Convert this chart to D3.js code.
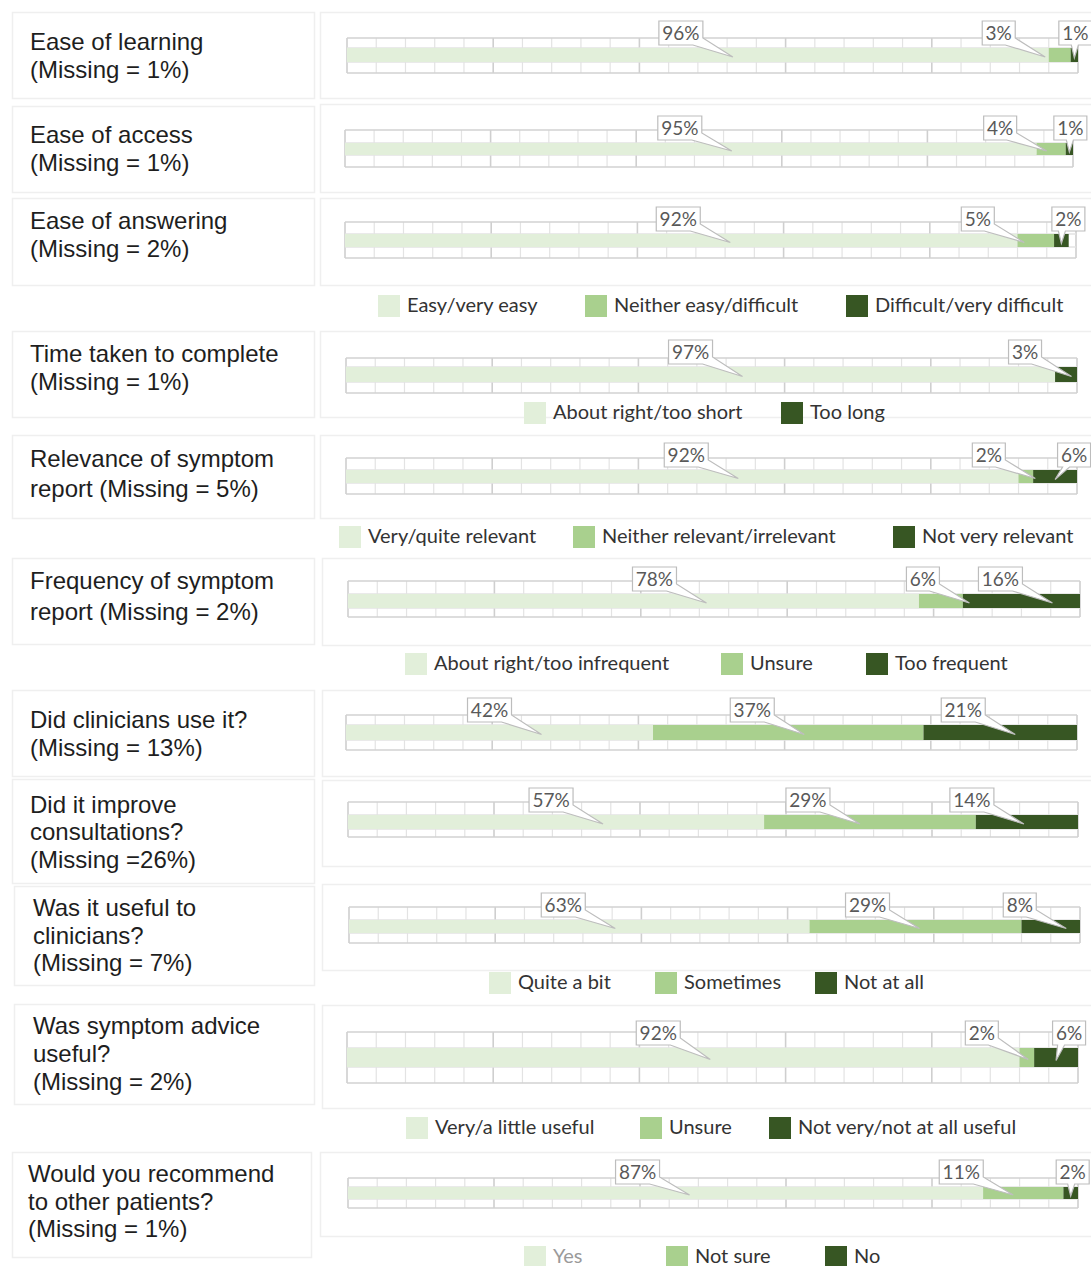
<!DOCTYPE html>
<html><head><meta charset="utf-8">
<script src="https://cdn.jsdelivr.net/npm/d3@7"></script>
<style>html,body{margin:0;padding:0;background:#fff;}svg{display:block;}</style>
</head><body>
<script>
// ---------- DATA ----------
const categories = [
  ["Ease of learning", "(Missing = 1%)"],
  ["Ease of access", "(Missing = 1%)"],
  ["Ease of answering", "(Missing = 2%)"],
  ["Time taken to complete", "(Missing = 1%)"],
  ["Relevance of symptom", "report (Missing = 5%)"],
  ["Frequency of symptom", "report (Missing = 2%)"],
  ["Did clinicians use it?", "(Missing = 13%)"],
  ["Did it improve", "consultations?", "(Missing =26%)"],
  ["Was it useful to", "clinicians?", "(Missing = 7%)"],
  ["Was symptom advice", "useful?", "(Missing = 2%)"],
  ["Would you recommend", "to other patients?", "(Missing = 1%)"]
];
const valuesPositive = [96, 95, 92, 97, 92, 78, 42, 57, 63, 92, 87];
const valuesNeutral  = [3, 4, 5, null, 2, 6, 37, 29, 29, 2, 11];
const valuesNegative = [1, 1, 2, 3, 6, 16, 21, 14, 8, 6, 2];

const legendEase      = ["Easy/very easy", "Neither easy/difficult", "Difficult/very difficult"];
const legendTime      = ["About right/too short", "Too long"];
const legendRelevance = ["Very/quite relevant", "Neither relevant/irrelevant", "Not very relevant"];
const legendFrequency = ["About right/too infrequent", "Unsure", "Too frequent"];
const legendClinician = ["Quite a bit", "Sometimes", "Not at all"];
const legendAdvice    = ["Very/a little useful", "Unsure", "Not very/not at all useful"];
const legendRecommend = ["Yes", "Not sure", "No"];

// ---------- LAYOUT / STYLE ----------
const colors = ["#e2efda", "#a9d08e", "#375623"];
const W = 1091, H = 1266;

const layout = [
  {lb:[12,314,12,98],  cb:[320,12,98],   x:[347,1078], g:[38,48,62,73],     tx:30, ty:[50,78]},
  {lb:[12,314,106,192],cb:[320,104,192], x:[345,1073], g:[130,143,155,167], tx:30, ty:[143,171]},
  {lb:[12,314,198,285],cb:[320,198,285], x:[345,1076], g:[222,234,247,258], tx:30, ty:[229,257]},
  {lb:[12,314,331,417],cb:[320,331,417], x:[346,1077], g:[358,367,382,393], tx:30, ty:[362,390]},
  {lb:[12,314,435,518],cb:[320,435,518], x:[346,1077], g:[458,470,483,494], tx:30, ty:[467,497]},
  {lb:[12,314,558,644],cb:[322,558,645], x:[348,1080], g:[581,594,608,617], tx:30, ty:[589,620]},
  {lb:[12,314,690,776],cb:[322,690,776], x:[346,1077], g:[715,725,740,750], tx:30, ty:[728,756]},
  {lb:[12,314,779,883],cb:[322,780,866], x:[348,1078], g:[802,815,829,837], tx:30, ty:[813,840,868]},
  {lb:[14,314,886,985],cb:[322,884,970], x:[349,1080], g:[907,920,933,943], tx:33, ty:[916,944,971]},
  {lb:[14,314,1004,1104],cb:[322,1005,1108], x:[347,1078], g:[1032,1048,1067,1083], tx:33, ty:[1034,1062,1090]},
  {lb:[12,311,1152,1257],cb:[320,1152,1236], x:[348,1078], g:[1178,1187,1199,1208], tx:28, ty:[1182,1210,1237]}
];
const calloutDx = [
  [-17,-61,1],[-11,-51,1],[-3,-58,7],[-10,null,-41],[4,-37,19],[21,-18,-21],
  [-10,-36,-37],[-5,-62,-55],[-16,-48,-31],[-25,-45,13],[-28,-62,2]
];
const legends = [
  {labels:legendEase,      ci:[0,1,2], sx:[378,585,846], y:306},
  {labels:legendTime,      ci:[0,2],   sx:[524,781],     y:413},
  {labels:legendRelevance, ci:[0,1,2], sx:[339,573,893], y:537},
  {labels:legendFrequency, ci:[0,1,2], sx:[405,721,866], y:664},
  {labels:legendClinician, ci:[0,1,2], sx:[489,655,815], y:983},
  {labels:legendAdvice,    ci:[0,1,2], sx:[406,640,769], y:1128},
  {labels:legendRecommend, ci:[0,1,2], sx:[524,666,825], y:1257}
];

const svg = d3.select("body").append("svg").attr("width", W).attr("height", H)
  .style("background", "#fff");

const boxStroke = "#efefef";

categories.forEach((lines, i) => {
  const L = layout[i];
  svg.append("rect").attr("x", L.lb[0] + 0.5).attr("y", L.lb[2] + 0.5)
    .attr("width", L.lb[1] - L.lb[0]).attr("height", L.lb[3] - L.lb[2])
    .attr("fill", "#fff").attr("stroke", boxStroke).attr("stroke-width", 1.5);
  svg.append("rect").attr("x", L.cb[0] + 0.5).attr("y", L.cb[1] + 0.5)
    .attr("width", W + 10 - L.cb[0]).attr("height", L.cb[2] - L.cb[1])
    .attr("fill", "#fff").attr("stroke", boxStroke).attr("stroke-width", 1.5);
  const t = svg.append("text").attr("font-family", "'Liberation Sans', Arial, sans-serif")
    .attr("font-size", 24).attr("fill", "#1e1e1e");
  lines.forEach((ln, k) => t.append("tspan").attr("x", L.tx).attr("y", L.ty[k]).text(ln));

  const x = d3.scaleLinear().domain([0, 100]).range(L.x);
  const [gTop, bTop, bBot, gBot] = L.g;
  const grid = svg.append("g");
  d3.range(0, 101, 4).forEach(v => {
    grid.append("line").attr("x1", x(v)).attr("x2", x(v)).attr("y1", gTop).attr("y2", gBot)
      .attr("stroke", v % 20 === 0 ? "#cfcfcf" : "#e3e3e3").attr("stroke-width", v % 20 === 0 ? 1.6 : 1.2);
  });
  [gTop, bTop, bBot, gBot].forEach((yy, k) => {
    grid.append("line").attr("x1", x(0)).attr("x2", x(100)).attr("y1", yy).attr("y2", yy)
      .attr("stroke", (k === 0 || k === 3) ? "#d2d2d2" : "#e3e3e3").attr("stroke-width", 1.4);
  });

  const vals = [valuesPositive[i], valuesNeutral[i], valuesNegative[i]];
  const segs = [];
  let cum = 0;
  vals.forEach((v, k) => {
    if (v == null) return;
    segs.push({k, v, start: cum, end: cum + v});
    cum += v;
  });
  svg.append("g").selectAll("rect").data(segs).join("rect")
    .attr("x", d => x(d.start)).attr("y", bTop)
    .attr("width", d => x(d.end) - x(d.start)).attr("height", bBot - bTop)
    .attr("fill", d => colors[d.k]);

  const barMid = (bTop + bBot) / 2;
  segs.forEach(d => {
    const label = d.v + "%";
    const w = label.length === 2 ? 33 : 44, h = 24;
    const cx = x((d.start + d.end) / 2) + calloutDx[i][d.k];
    let left = cx - w / 2;
    const top = bTop - 27;
    const right = left + w, bottom = top + h;
    let path;
    if (right >= 1080) {
      const tipX = x((d.start + d.end) / 2), tipY = barMid + 3;
      const bx = Math.min(Math.max(tipX, left + 8), right - 8);
      path = `M${left},${top}H${right}V${bottom}H${bx + 4}L${tipX},${tipY}L${bx - 3},${bottom}H${left}Z`;
    } else {
      const tipX = right + 30, tipY = barMid + 2;
      path = `M${left},${top}H${right}V${bottom - 7}L${tipX},${tipY}L${right - 10},${bottom}H${left}Z`;
    }
    const g = svg.append("g");
    g.append("path").attr("d", path).attr("fill", "#fff").attr("stroke", "#bdbdbd").attr("stroke-width", 1.2);
    g.append("text").attr("x", left + w / 2).attr("y", top + h / 2 + 7)
      .attr("text-anchor", "middle").attr("font-family", "Lato, 'Open Sans', sans-serif")
      .attr("font-size", 19).attr("fill", "#595959").text(label);
  });
});

legends.forEach(lg => {
  const g = svg.append("g");
  lg.labels.forEach((lab, k) => {
    g.append("rect").attr("x", lg.sx[k]).attr("y", lg.y - 11).attr("width", 22).attr("height", 22)
      .attr("fill", colors[lg.ci[k]]);
    g.append("text").attr("x", lg.sx[k] + 29).attr("y", lg.y + 6)
      .attr("font-family", "Lato, 'Open Sans', sans-serif").attr("font-size", 20)
      .attr("fill", lab === "Yes" ? "#9a9a9a" : "#333").text(lab);
  });
});
</script>
</body></html>
